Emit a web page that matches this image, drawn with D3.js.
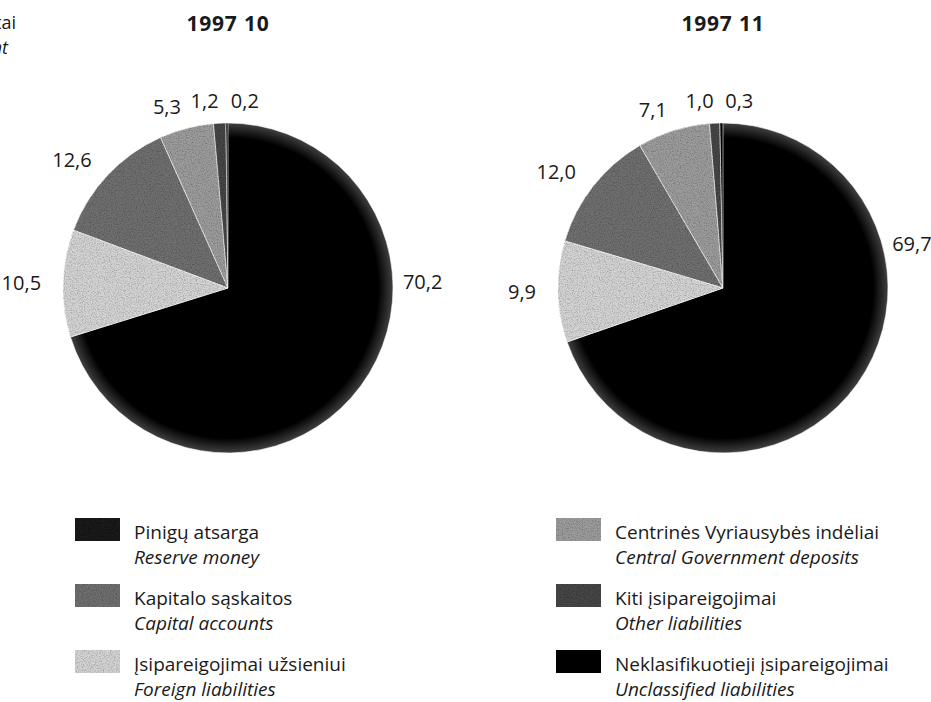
<!DOCTYPE html>
<html lang="lt">
<head>
<meta charset="utf-8">
<title>1997 10 / 1997 11</title>
<script src="https://d3js.org/d3.v7.min.js"></script>
<style>
  body { margin: 0; background: #fff; }
  svg text { font-family: "Open Sans", "DejaVu Sans", sans-serif; fill: #1a1a1a; }
</style>
</head>
<body>
<svg id="chart" width="931" height="702"></svg>
<script>
// legend order
const namesLt = ["Pinigų atsarga", "Kapitalo sąskaitos", "Įsipareigojimai užsieniui",
                 "Centrinės Vyriausybės indėliai", "Kiti įsipareigojimai", "Neklasifikuotieji įsipareigojimai"];
const namesEn = ["Reserve money", "Capital accounts", "Foreign liabilities",
                 "Central Government deposits", "Other liabilities", "Unclassified liabilities"];
const months = ["1997 10", "1997 11"];
const valuesOct = [70.2, 12.6, 10.5, 5.3, 1.2, 0.2];
const valuesNov = [69.7, 12.0, 9.9, 7.1, 1.0, 0.3];
// clockwise from 12 o'clock
const sliceOrder = [0, 2, 1, 3, 4, 5];

const fills = ["#1e1e1e", "#6f6f6f", "#d4d4d4", "#9c9c9c", "#474747", "#050505"];

const svg = d3.select("#chart");
const R = 165;
const pies = [
  { title: months[0], values: valuesOct, cx: 228, cy: 288, mainAngle: 88 },
  { title: months[1], values: valuesNov, cx: 723, cy: 288, mainAngle: 75 }
];

const defs = svg.append("defs");
// grain like the printed raster
const f = defs.append("filter").attr("id", "grain").attr("x", 0).attr("y", 0).attr("width", 1).attr("height", 1);
f.append("feTurbulence").attr("type", "fractalNoise").attr("baseFrequency", 0.85)
  .attr("numOctaves", 2).attr("seed", 3).attr("result", "noise");
f.append("feColorMatrix").attr("in", "noise").attr("type", "matrix")
  .attr("values", "0 0 0 0 0  0 0 0 0 0  0 0 0 0 0  0 0 0 1.1 -0.45").attr("result", "dots");
f.append("feComposite").attr("in", "dots").attr("in2", "SourceGraphic").attr("operator", "in").attr("result", "dots2");
const m = f.append("feMerge");
m.append("feMergeNode").attr("in", "SourceGraphic");
m.append("feMergeNode").attr("in", "dots2");

// black slice with the grey rim of the print (centred on the pie's own origin)
const rim = defs.append("radialGradient").attr("id", "rim")
  .attr("gradientUnits", "userSpaceOnUse")
  .attr("cx", 0).attr("cy", 0).attr("r", R);
rim.append("stop").attr("offset", "0").attr("stop-color", "#000");
rim.append("stop").attr("offset", "0.91").attr("stop-color", "#000");
rim.append("stop").attr("offset", "1").attr("stop-color", "#404040");

// y axis caption, cut at the page edge as in the print
svg.append("text").attr("x", 16).attr("y", 29).attr("text-anchor", "end")
  .style("font-size", "18px").text("Procentai");
svg.append("text").attr("x", 8).attr("y", 54).attr("text-anchor", "end")
  .style("font-size", "18px").style("font-style", "italic").text("Percent");

const pie = d3.pie()
  .value(d => d.v)
  .sort((a, b) => sliceOrder.indexOf(a.k) - sliceOrder.indexOf(b.k));
const arc = d3.arc().innerRadius(0).outerRadius(R);

pies.forEach((p, pi) => {
  const data = p.values.map((v, k) => ({ k, v }));
  const arcs = pie(data);
  const g = svg.append("g").attr("transform", `translate(${p.cx},${p.cy})`);

  g.selectAll("path").data(arcs).join("path")
    .attr("d", arc)
    .attr("fill", d => d.data.k === 0 ? "url(#rim)" : fills[d.data.k])
    .attr("stroke", "#fff").attr("stroke-width", 0.6)
    .attr("filter", d => d.data.k === 0 ? null : "url(#grain)");

  g.selectAll("text.lbl").data(arcs).join("text")
    .attr("class", "lbl")
    .each(function (d) {
      let a = (d.startAngle + d.endAngle) / 2;
      let rr = R + 22;
      if (d.data.k === 0) { a = p.mainAngle * Math.PI / 180; rr = R + 6; }
      const x = Math.sin(a) * rr, y = -Math.cos(a) * rr;
      const left = Math.sin(a) < -0.05;
      d3.select(this)
        .attr("x", x + (left ? 0 : 4)).attr("y", y).attr("dy", "0.35em")
        .attr("text-anchor", left ? "end" : "start");
    })
    .style("font-size", "20px")
    .text(d => d3.format(".1f")(d.data.v).replace(".", ","));

  svg.append("text").attr("x", p.cx).attr("y", 31).attr("text-anchor", "middle")
    .style("font-size", "21px").style("font-weight", "bold").style("letter-spacing", "0.8px")
    .text(p.title);
});

// legend, two columns of three
const leg = svg.append("g");
const colX = [134, 615];
const rowY = [518, 584, 650];
namesLt.forEach((name, k) => {
  const col = Math.floor(k / 3), row = k % 3;
  const x = colX[col], y = rowY[row];
  leg.append("rect").attr("x", x - 59).attr("y", y).attr("width", 45).attr("height", 23)
    .attr("fill", fills[k]).attr("filter", "url(#grain)");
  leg.append("text").attr("x", x).attr("y", y + 21).style("font-size", "19px").text(name);
  leg.append("text").attr("x", x).attr("y", y + 46).style("font-size", "19px")
    .style("font-style", "italic").text(namesEn[k]);
});
</script>
</body>
</html>
